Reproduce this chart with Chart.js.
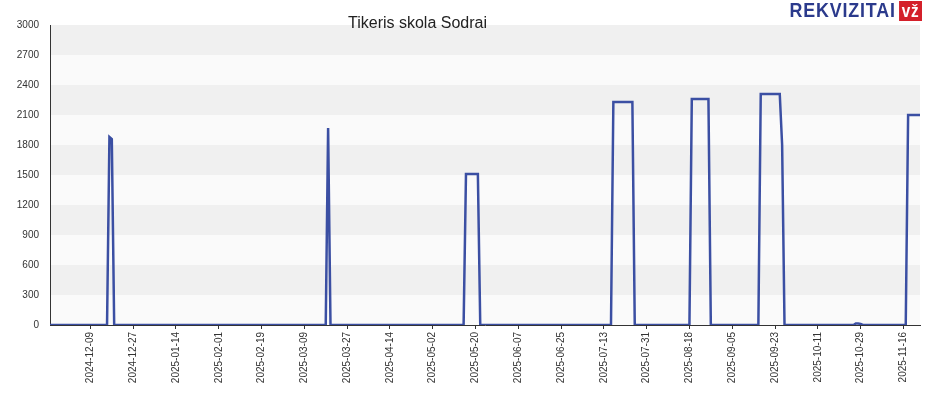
<!DOCTYPE html>
<html><head><meta charset="utf-8">
<script src="https://cdn.jsdelivr.net/npm/chart.js@4"></script>
<style>body{margin:0;background:#fff;font-family:Arial,"Liberation Sans",sans-serif}
#w{position:relative;width:930px;height:400px}
#title{position:absolute;left:348px;top:14px;font:16px "Liberation Sans",Arial;color:#222}
#logo{position:absolute;right:8px;top:-2px;font:bold 21px "Liberation Sans",Arial;color:#2b3a8c;letter-spacing:1px;transform:scaleX(0.85);transform-origin:right}
#logo span{background:#d4202a;color:#fff;padding:0 3px;margin-left:4px;font-size:18px}
</style></head><body>
<div id="w"><canvas id="c" width="930" height="400"></canvas><div id="title">Tikeris skola Sodrai</div><div id="logo">REKVIZITAI<span>vž</span></div></div>
<script>
const startDate='2024-11-22', endDate='2025-11-23';
const tickLabels=['2024-12-09','2024-12-27','2025-01-14','2025-02-01','2025-02-19','2025-03-09','2025-03-27','2025-04-14','2025-05-02','2025-05-20','2025-06-07','2025-06-25','2025-07-13','2025-07-31','2025-08-18','2025-09-05','2025-09-23','2025-10-11','2025-10-29','2025-11-16'];
// non-zero days; all other days are 0
const nonZeroDates=['2024-12-17','2024-12-18','2025-03-19','2025-05-16','2025-05-17','2025-05-18','2025-05-19','2025-05-20','2025-05-21',
'2025-07-17','2025-07-18','2025-07-19','2025-07-20','2025-07-21','2025-07-22','2025-07-23','2025-07-24','2025-07-25',
'2025-08-19','2025-08-20','2025-08-21','2025-08-22','2025-08-23','2025-08-24','2025-08-25','2025-08-26',
'2025-09-17','2025-09-18','2025-09-19','2025-09-20','2025-09-21','2025-09-22','2025-09-23','2025-09-24','2025-09-25','2025-09-26',
'2025-10-27','2025-10-28','2025-10-29','2025-11-18','2025-11-19','2025-11-20','2025-11-21','2025-11-22','2025-11-23'];
const nonZeroValues=[1880,1860,1970,1510,1510,1510,1510,1510,1510,
2230,2230,2230,2230,2230,2230,2230,2230,2230,
2260,2260,2260,2260,2260,2260,2260,2260,
2310,2310,2310,2310,2310,2310,2310,2310,2310,1800,
15,15,10,2100,2100,2100,2100,2100,2100];
const labels=[],values=[];
for(let d=new Date(startDate+'T00:00:00Z');d<=new Date(endDate+'T00:00:00Z');d.setUTCDate(d.getUTCDate()+1)){
 const s=d.toISOString().slice(0,10);labels.push(s);const i=nonZeroDates.indexOf(s);values.push(i>=0?nonZeroValues[i]:0);}
const bands={id:'bands',beforeDraw(ch){const {ctx,chartArea:a,scales:{y}}=ch;ctx.save();
 for(let v=0;v<3000;v+=300){ctx.fillStyle=(v/300)%2?'#f0f0f0':'#fafafa';const t=y.getPixelForValue(v+300),b=y.getPixelForValue(v);ctx.fillRect(a.left,t,a.right-a.left,b-t);}
 ctx.restore();}};
new Chart(document.getElementById('c'),{type:'line',data:{labels,datasets:[{data:values,borderColor:'#3b4fa3',borderWidth:2.5,pointRadius:0,tension:0,fill:false}]},
options:{responsive:false,animation:false,layout:{padding:{top:25,right:10,left:0,bottom:0}},
plugins:{legend:{display:false},title:{display:false},tooltip:{enabled:false}},
scales:{x:{afterFit(a){a.height=75},grid:{display:true,drawOnChartArea:false,drawTicks:true,tickLength:4,color:'#333'},border:{color:'#333'},ticks:{autoSkip:false,maxRotation:90,minRotation:90,color:'#333',font:{size:10},
 callback:(v,i)=>tickLabels.includes(labels[i])?labels[i]:null}},
 y:{min:0,max:3000,afterFit(a){a.width=50},afterBuildTicks(ax){ax.ticks=[];for(let v=0;v<=3000;v+=300)ax.ticks.push({value:v});},grid:{display:false},border:{color:'#333'},ticks:{color:'#333',font:{size:10},callback:v=>String(v)}}}},
plugins:[bands]});
</script></body></html>
